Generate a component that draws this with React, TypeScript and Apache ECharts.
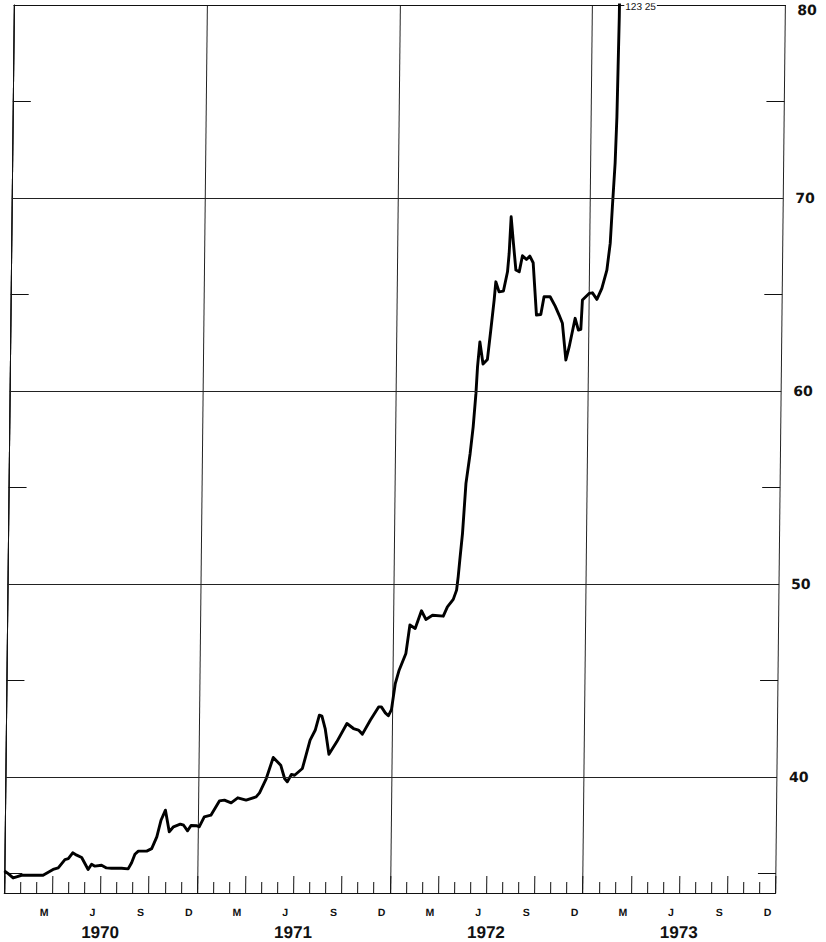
import React, { useEffect, useRef } from "react";
import * as echarts from "echarts";

// x = months since 1 Jan 1970, y = price
const months1970 = [0.0, 0.24, 0.55, 0.76, 1.07, 1.38, 2.41, 3.03, 3.35, 3.76, 3.97, 4.24, 4.49, 4.8, 5.21, 5.42, 5.63, 6.04, 6.35, 6.67, 7.29, 7.7, 7.91, 8.11, 8.32, 8.84, 9.15, 9.46, 9.71, 9.98, 10.23, 10.49, 10.91, 11.12, 11.37, 11.58, 11.95];
const prices1970 = [35.15, 35.0, 34.78, 34.84, 34.92, 34.92, 34.92, 35.22, 35.3, 35.73, 35.78, 36.08, 35.96, 35.84, 35.22, 35.49, 35.39, 35.44, 35.3, 35.28, 35.28, 35.25, 35.57, 36.01, 36.17, 36.17, 36.3, 36.91, 37.77, 38.29, 37.17, 37.43, 37.57, 37.51, 37.22, 37.5, 37.48];

const months1971 = [12.09, 12.4, 12.81, 13.33, 13.64, 14.06, 14.47, 14.99, 15.61, 15.82, 16.23, 16.65, 17.12, 17.37, 17.54, 17.79, 17.99, 18.47, 18.93, 19.24, 19.49, 19.65, 19.86, 20.11, 20.59, 21.21, 21.62, 21.93, 22.18, 22.66, 23.17, 23.34, 23.59, 23.78];
const prices1971 = [37.43, 37.94, 38.03, 38.77, 38.81, 38.67, 38.93, 38.81, 38.98, 39.19, 39.93, 41.02, 40.62, 39.93, 39.76, 40.14, 40.1, 40.45, 41.92, 42.43, 43.21, 43.16, 42.52, 41.19, 41.83, 42.78, 42.52, 42.44, 42.23, 42.95, 43.64, 43.64, 43.33, 43.18];

const months1972 = [23.97, 24.19, 24.42, 24.83, 25.06, 25.39, 25.77, 26.05, 26.46, 27.13, 27.38, 27.74, 27.94, 28.03, 28.12, 28.27, 28.45, 28.69, 28.86, 29.01, 29.09, 29.22, 29.43, 29.7, 29.89, 30.08, 30.17, 30.38, 30.65, 30.89, 30.98, 31.08, 31.24, 31.41, 31.62, 31.81, 32.06, 32.27, 32.48, 32.72, 32.99, 33.18, 33.56, 33.88, 34.13, 34.34, 34.58, 34.78, 35.13, 35.34, 35.49, 35.57];
const prices1972 = [43.5, 44.85, 45.54, 46.41, 47.88, 47.7, 48.62, 48.17, 48.39, 48.34, 48.82, 49.21, 49.69, 50.38, 51.24, 52.63, 55.22, 56.77, 58.15, 59.88, 61.26, 62.55, 61.4, 61.64, 63.16, 64.72, 65.66, 65.14, 65.18, 66.18, 67.13, 69.03, 67.65, 66.27, 66.18, 67.01, 66.82, 66.99, 66.65, 63.94, 63.97, 64.89, 64.89, 64.4, 63.94, 63.51, 61.61, 62.3, 63.77, 63.16, 63.2, 64.72];

const months1973 = [35.98, 36.19, 36.47, 36.77, 37.07, 37.26, 37.37, 37.51, 37.59, 37.63, 37.67, 37.85];
const prices1973 = [65.06, 65.09, 64.75, 65.32, 66.27, 67.65, 69.55, 71.8, 74.21, 76.8, 79.39, 123.25];

const yearLabels = ["1970", "1971", "1972", "1973"];
const quarterLetters = ["D", "M", "J", "S"];
const priceLabels = [40, 50, 60, 70, 80];
const gridPrices = [40, 50, 60, 70];
const priceMin = 34;
const priceMax = 80;
const firstHalfStepTick = 35; // ticks at 35, 45, 55, 65, 75
const peakLabel = "123 25";

const FONT = "'Liberation Sans', Arial, sans-serif";
const INK = "#111";

// plot geometry
const TOP = 5;
const PLOT_BOTTOM = 893;
const H = 942;
const LEFT = 9;
const RIGHT = 45.4;

export default function App() {
  const ref = useRef<HTMLDivElement>(null);

  useEffect(() => {
    if (!ref.current) return;
    const chart = echarts.init(ref.current, null, { renderer: "svg" });

    const allMonths = [...months1970, ...months1971, ...months1972, ...months1973];
    const allPrices = [...prices1970, ...prices1971, ...prices1972, ...prices1973];
    const data = allMonths.map((m, i) => [m, allPrices[i]]);
    const peakMonth = months1973[months1973.length - 1];

    // second (tick-only) grid whose y range starts at 35 with the same scale
    const pxPerUnit = (PLOT_BOTTOM - TOP) / (priceMax - priceMin);
    const tickGridBottomY = TOP + (priceMax - firstHalfStepTick) * pxPerUnit;

    const halfTickAxis = (position: string) => ({
      type: "value",
      gridIndex: 1,
      min: firstHalfStepTick,
      max: priceMax,
      interval: 10,
      position,
      axisLine: { show: false },
      axisTick: { show: true, inside: true, length: 18, lineStyle: { color: INK, width: 1 } },
      axisLabel: { show: false },
      splitLine: { show: false },
    });

    const option: any = {
      animation: false,
      backgroundColor: "#fff",
      grid: [
        { left: LEFT, right: RIGHT, top: TOP, bottom: H - PLOT_BOTTOM, containLabel: false },
        { left: LEFT, right: RIGHT, top: TOP, bottom: H - tickGridBottomY, containLabel: false },
      ],
      xAxis: [
        {
          type: "value",
          gridIndex: 0,
          min: 0,
          max: 48,
          interval: 3,
          position: "bottom",
          axisLine: { show: true, lineStyle: { color: INK, width: 1 } },
          axisTick: { show: true, inside: true, length: 17, lineStyle: { color: INK, width: 1 } },
          minorTick: { show: true, splitNumber: 3, length: 11, lineStyle: { color: INK, width: 1 } },
          splitLine: { show: false },
          minorSplitLine: { show: false },
          axisLabel: {
            show: true,
            margin: 13,
            fontFamily: FONT,
            fontWeight: "bold",
            fontSize: 10.5,
            color: INK,
            padding: [0, 16, 0, 0],
            formatter: (v: number) => (v === 0 ? "" : quarterLetters[Math.round(v / 3) % 4]),
          },
        },
        {
          type: "value",
          gridIndex: 0,
          min: 0,
          max: 48,
          interval: 6,
          position: "bottom",
          axisLine: { show: false },
          axisTick: { show: false },
          splitLine: { show: false },
          axisLabel: {
            show: true,
            margin: 31,
            fontFamily: FONT,
            fontWeight: "bold",
            fontSize: 17,
            color: INK,
            formatter: (v: number) => (v % 12 === 6 ? yearLabels[(v - 6) / 12] : ""),
          },
        },
        {
          type: "value",
          gridIndex: 0,
          min: 0,
          max: 48,
          interval: 12,
          position: "bottom",
          axisLine: { show: false },
          axisTick: { show: false },
          axisLabel: { show: false },
          splitLine: { show: true, lineStyle: { color: "#222", width: 1 } },
        },
        {
          type: "value",
          gridIndex: 0,
          min: 0,
          max: 48,
          position: "top",
          axisLine: { show: true, lineStyle: { color: INK, width: 1 } },
          axisTick: { show: false },
          axisLabel: { show: false },
          splitLine: { show: false },
        },
        {
          type: "value",
          gridIndex: 1,
          min: 0,
          max: 48,
          show: false,
        },
      ],
      yAxis: [
        {
          type: "value",
          gridIndex: 0,
          min: priceMin,
          max: priceMax,
          position: "right",
          axisLine: { show: true, lineStyle: { color: INK, width: 1 } },
          axisTick: { show: false },
          splitLine: { show: false },
          axisLabel: {
            show: true,
            customValues: priceLabels,
            margin: 12,
            fontFamily: "'DejaVu Sans', sans-serif",
            fontWeight: "bold",
            fontSize: 14,
            color: INK,
            formatter: (v: number) => (v === 80 ? "{top|80}" : String(v)),
            rich: {
              top: {
                padding: [10, 0, 0, 0],
                fontFamily: "'DejaVu Sans', sans-serif",
                fontWeight: "bold",
                fontSize: 14,
                color: INK,
              },
            },
          },
        },
        {
          type: "value",
          gridIndex: 0,
          min: priceMin,
          max: priceMax,
          position: "left",
          axisLine: { show: true, lineStyle: { color: INK, width: 1 } },
          axisTick: { show: false },
          axisLabel: { show: false },
          splitLine: { show: false },
        },
        halfTickAxis("left"),
        halfTickAxis("right"),
      ],
      series: [
        {
          type: "line",
          xAxisIndex: 0,
          yAxisIndex: 0,
          data,
          symbol: "none",
          showSymbol: false,
          clip: true,
          lineStyle: { color: "#000", width: 2.9, join: "round" },
          markLine: {
            silent: true,
            symbol: "none",
            label: { show: false },
            lineStyle: { color: "#222", width: 1, type: "solid" },
            data: gridPrices.map((v) => ({ yAxis: v })),
          },
          markPoint: {
            silent: true,
            symbol: "circle",
            symbolSize: 0,
            data: [{ coord: [peakMonth, priceMax], value: peakLabel }],
            label: {
              show: true,
              position: "right",
              distance: 2,
              offset: [0, 2],
              formatter: peakLabel,
              fontFamily: FONT,
              fontSize: 10,
              color: INK,
              backgroundColor: "#fff",
              padding: [1, 1, 1, 1],
            },
          },
        },
      ],
    };

    chart.setOption(option);
    return () => chart.dispose();
  }, []);

  return (
    <div
      ref={ref}
      style={{
        position: "absolute",
        left: 0,
        top: 0,
        width: 826,
        height: 942,
        background: "#fff",
        transform: "skewX(-0.63deg)",
        transformOrigin: "0px 449px",
      }}
    />
  );
}
